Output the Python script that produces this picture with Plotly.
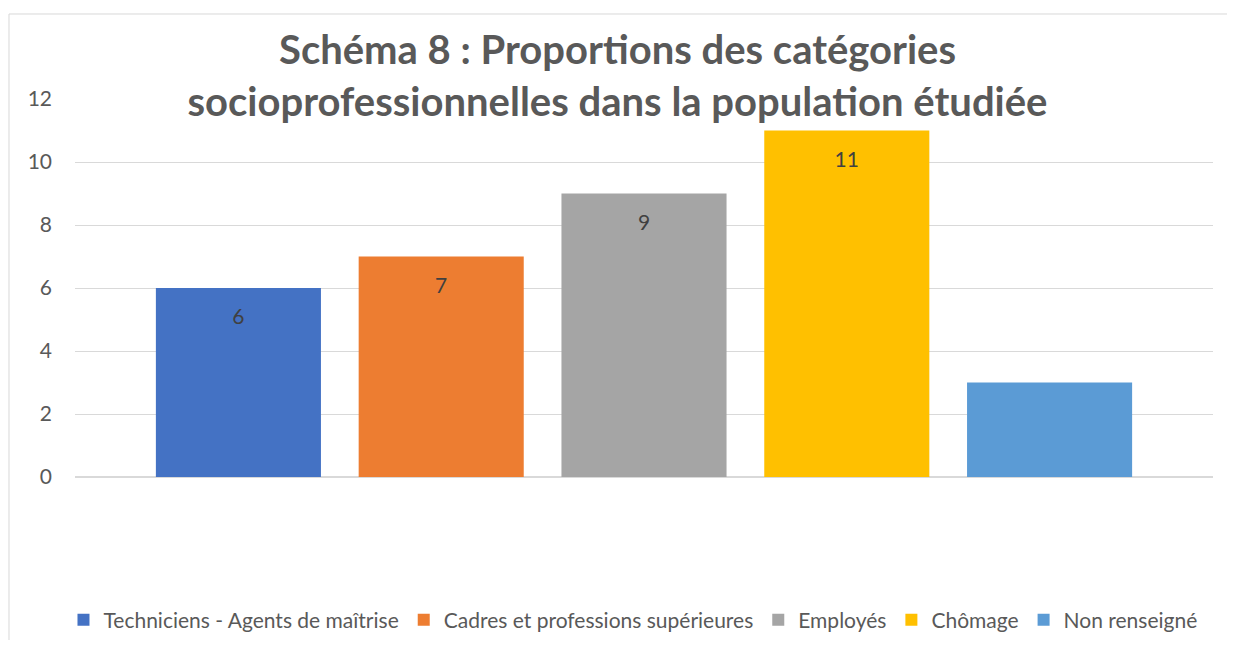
import plotly.graph_objects as go

# one category, five series (Excel clustered column with a single category)
categorie = ["Catégories"]
series = ["Techniciens - Agents de maîtrise", "Cadres et professions supérieures",
          "Employés", "Chômage", "Non renseigné"]
valeurs = [6, 7, 9, 11, 3]
etiquettes = ["6", "7", "9", "11", ""]  # the last bar has no data label
couleurs = ["#4472C4", "#ED7D31", "#A5A5A5", "#FFC000", "#5B9BD5"]
y_ticks = [0, 2, 4, 6, 8, 10, 12]

# small spacer line so the label sits a bit lower inside the bar, like Excel
spacer = "<span style='font-size:6px'>&nbsp;</span><br>"

fig = go.Figure()
for nom, v, lab, c in zip(series, valeurs, etiquettes, couleurs):
    fig.add_trace(go.Bar(
        x=categorie,
        y=[v],
        name=nom,
        text=[spacer + lab] if lab else [""],
        textposition="inside",
        insidetextanchor="end",
        textfont=dict(color="#404040", size=21, family="Lato"),
        marker=dict(color=c, line=dict(width=0)),
        hoverinfo="y+name",
    ))

# the page keeps its 8px body margin on every side, so the figure is 16px smaller
fig.update_layout(
    width=1219, height=632,
    margin=dict(l=67, r=14, t=91, b=163),
    paper_bgcolor="white", plot_bgcolor="white",
    barmode="group",
    bargap=0.109,
    bargroupgap=0.186,
    font=dict(family="Lato", color="#595959", size=21),
    title=dict(
        text="<b>Schéma 8 : Proportions des catégories<br>socioprofessionnelles dans la population étudiée</b>",
        x=0.5, xanchor="center",
        y=0.911, yanchor="top", yref="container",
        font=dict(size=40, color="#595959", family="Lato"),
    ),
    xaxis=dict(showticklabels=False, showgrid=False, zeroline=False, showline=False,
               range=[-0.5, 0.5]),
    yaxis=dict(range=[0, 12], tickvals=y_ticks, showgrid=True, gridcolor="#D9D9D9",
               gridwidth=1, zeroline=True, zerolinecolor="#D9D9D9", showline=False,
               ticks="", ticklabelstandoff=22, tickfont=dict(size=21, color="#595959")),
    # container refs so the legend does not push the margins
    legend=dict(orientation="h", xref="container", yref="container",
                x=0.5127, xanchor="center", y=0.0316, yanchor="middle",
                font=dict(size=21, color="#595959"), itemwidth=30, tracegroupgap=0),
    showlegend=True,
    shapes=[dict(type="rect", xref="paper", yref="paper", x0=-0.058, x1=1.05,
                 y0=-0.6, y1=1.2249, line=dict(color="#D9D9D9", width=1),
                 fillcolor="rgba(0,0,0,0)", layer="below")],
)

fig.write_html("out.html")
